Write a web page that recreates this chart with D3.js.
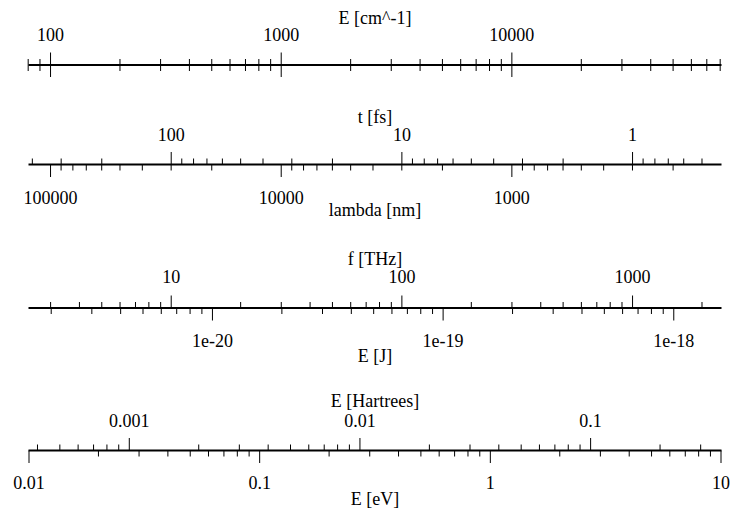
<!DOCTYPE html>
<html>
<head>
<meta charset="utf-8">
<script src="https://cdn.jsdelivr.net/npm/d3@7"></script>
<style>
  html, body { margin: 0; padding: 0; background: #fff; }
  svg { display: block; }
  text { font-family: "Liberation Serif", "Times New Roman", serif; font-size: 18px; fill: #000; }
</style>
</head>
<body>
<svg id="chart" width="732" height="511"></svg>
<script>
// ---- data ----
const evDomain = [0.01, 10];                       // shared energy range in eV
const unitNames = ["E [cm^-1]", "t [fs]", "lambda [nm]", "f [THz]", "E [J]", "E [Hartrees]", "E [eV]"];
const unitFactors = [8065.544, 4.135667, 1239.842, 241.7989, 1.602177e-19, 1 / 27.211386, 1];
const unitInverse = [false, true, true, false, false, false, false];
const cmLabels = [100, 1000, 10000];
const fsLabels = [100, 10, 1];
const nmLabels = [100000, 10000, 1000];
const thzLabels = [10, 100, 1000];
const jLabels = [1e-20, 1e-19, 1e-18];
const jLabelText = ["1e-20", "1e-19", "1e-18"];
const haLabels = [0.001, 0.01, 0.1];
const evLabels = [0.01, 0.1, 1, 10];

// ---- layout ----
const left = 29, right = 721, midX = (left + right) / 2;
const svg = d3.select("#chart");
svg.append("rect").attr("width", 732).attr("height", 511).attr("fill", "#fff");

function unitScale(i) {
  const f = unitFactors[i];
  const conv = unitInverse[i] ? (e => f / e) : (e => e * f);
  return d3.scaleLog().domain(evDomain.map(conv)).range([left, right]);
}

function drawTicks(g, scale, labels, labelText, dir, y, labelY) {
  const ext = scale.copy().domain([scale.invert(left - 2), scale.invert(right + 2)]);
  const all = ext.ticks().filter(v => {
    const p = scale(v);
    return p >= left - 1.5 && p <= right + 1.5;
  });
  const isMajor = v => labels.some(l => Math.abs(Math.log10(v) - Math.log10(l)) < 1e-6);
  g.selectAll(null).data(all).enter().append("line")
    .attr("x1", d => scale(d)).attr("x2", d => scale(d))
    .attr("y1", y)
    .attr("y2", d => y + dir * (isMajor(d) ? 12.5 : 6))
    .attr("stroke", "#000").attr("stroke-width", 1);
  g.selectAll(null).data(labels).enter().append("text")
    .attr("x", d => scale(d))
    .attr("y", labelY)
    .attr("text-anchor", "middle")
    .text((d, i) => labelText ? labelText[i] : String(d));
}

function row(y, top, bottom) {
  const g = svg.append("g");
  g.append("line").attr("x1", left - 0.5).attr("x2", right + 0.5)
    .attr("y1", y).attr("y2", y).attr("stroke", "#000").attr("stroke-width", 2);
  if (top) {
    drawTicks(g, unitScale(top.i), top.labels, top.text, -1, y, y - 24.5);
    g.append("text").attr("x", midX).attr("y", y - 42).attr("text-anchor", "middle").text(unitNames[top.i]);
  }
  if (bottom) {
    drawTicks(g, unitScale(bottom.i), bottom.labels, null, 1, y, y + 39);
    // bottom ticks only (labels drawn separately if requested)
    if (bottom.showLabels) {
      g.selectAll("text.bl").remove();
    }
    g.append("text").attr("x", midX).attr("y", y + bottom.titleOff).attr("text-anchor", "middle").text(unitNames[bottom.i]);
  }
  return g;
}

// Row 1: E [cm^-1] both sides, labels on top only
(function() {
  const y = 65;
  const g = svg.append("g");
  const s = unitScale(0);
  g.append("line").attr("x1", left - 0.5).attr("x2", right + 0.5)
    .attr("y1", y).attr("y2", y).attr("stroke", "#000").attr("stroke-width", 2);
  drawTicks(g, s, cmLabels, null, -1, y, y - 24.5);
  const g2 = svg.append("g");
  const ext = s.copy().domain([s.invert(left - 2), s.invert(right + 2)]);
  const all = ext.ticks().filter(v => s(v) >= left - 1.5 && s(v) <= right + 1.5);
  const isMajor = v => cmLabels.some(l => Math.abs(Math.log10(v) - Math.log10(l)) < 1e-6);
  g2.selectAll(null).data(all).enter().append("line")
    .attr("x1", d => s(d)).attr("x2", d => s(d))
    .attr("y1", y).attr("y2", d => y + (isMajor(d) ? 12 : 6))
    .attr("stroke", "#000").attr("stroke-width", 1);
  g.append("text").attr("x", midX).attr("y", y - 41).attr("text-anchor", "middle").text(unitNames[0]);
})();

// Row 2: t [fs] / lambda [nm]
(function() {
  const y = 164.5;
  const g = svg.append("g");
  g.append("line").attr("x1", left - 0.5).attr("x2", right + 0.5)
    .attr("y1", y).attr("y2", y).attr("stroke", "#000").attr("stroke-width", 2);
  drawTicks(g, unitScale(1), fsLabels, null, -1, y, y - 24);
  drawTicks(g, unitScale(2), nmLabels, null, 1, y, y + 39.5);
  g.append("text").attr("x", midX).attr("y", y - 42).attr("text-anchor", "middle").text(unitNames[1]);
  g.append("text").attr("x", midX).attr("y", y + 51.5).attr("text-anchor", "middle").text(unitNames[2]);
})();

// Row 3: f [THz] / E [J]
(function() {
  const y = 308;
  const g = svg.append("g");
  g.append("line").attr("x1", left - 0.5).attr("x2", right + 0.5)
    .attr("y1", y).attr("y2", y).attr("stroke", "#000").attr("stroke-width", 2);
  drawTicks(g, unitScale(3), thzLabels, null, -1, y, y - 25);
  drawTicks(g, unitScale(4), jLabels, jLabelText, 1, y, y + 38.5);
  g.append("text").attr("x", midX).attr("y", y - 43).attr("text-anchor", "middle").text(unitNames[3]);
  g.append("text").attr("x", midX).attr("y", y + 54).attr("text-anchor", "middle").text(unitNames[4]);
})();

// Row 4: E [Hartrees] / E [eV]
(function() {
  const y = 450.5;
  const g = svg.append("g");
  g.append("line").attr("x1", left - 0.5).attr("x2", right + 0.5)
    .attr("y1", y).attr("y2", y).attr("stroke", "#000").attr("stroke-width", 2);
  drawTicks(g, unitScale(5), haLabels, null, -1, y, y - 24);
  drawTicks(g, unitScale(6), evLabels, null, 1, y, y + 38.5);
  g.append("text").attr("x", midX).attr("y", y - 43.5).attr("text-anchor", "middle").text(unitNames[5]);
  g.append("text").attr("x", midX).attr("y", y + 54.5).attr("text-anchor", "middle").text(unitNames[6]);
})();
</script>
</body>
</html>
